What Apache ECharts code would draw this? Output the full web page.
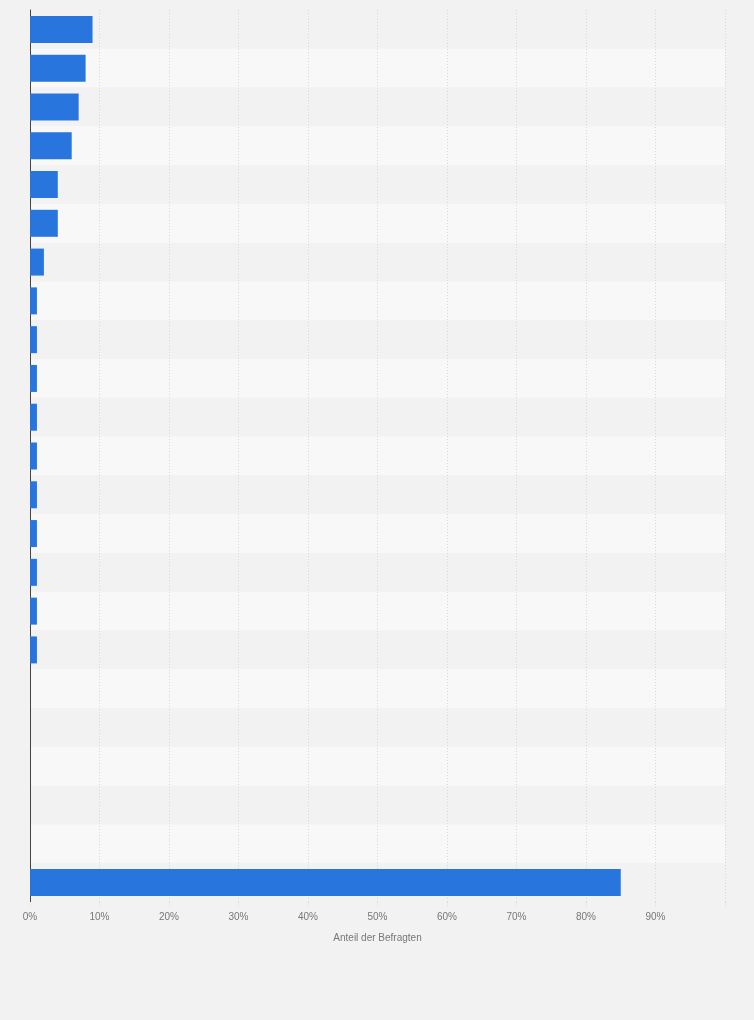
<!DOCTYPE html>
<html><head><meta charset="utf-8">
<script src="https://cdn.jsdelivr.net/npm/echarts@6/dist/echarts.min.js"></script>
<style>html,body{margin:0;padding:0;background:#f2f2f2;}#c{width:754px;height:1020px;}</style>
</head><body><div id="c"></div>
<script>
const categories = ["Kategorie 1","Kategorie 2","Kategorie 3","Kategorie 4","Kategorie 5","Kategorie 6","Kategorie 7","Kategorie 8","Kategorie 9","Kategorie 10","Kategorie 11","Kategorie 12","Kategorie 13","Kategorie 14","Kategorie 15","Kategorie 16","Kategorie 17","Kategorie 18","Kategorie 19","Kategorie 20","Kategorie 21","Kategorie 22","Kategorie 23"];
const values = [9,8,7,6,4,4,2,1,1,1,1,1,1,1,1,1,1,0,0,0,0,0,85];
const xTicks = [0,10,20,30,40,50,60,70,80,90];
const axisName = "Anteil der Befragten";

const chart = echarts.init(document.getElementById('c'), null, {renderer:'canvas'});
chart.setOption({
  backgroundColor:'#f2f2f2',
  animation:false,
  grid:{left:30,right:29,top:10,bottom:118,containLabel:false},
  xAxis:{type:'value',min:0,max:100,interval:10,
    name:axisName,nameLocation:'middle',nameGap:31,
    nameTextStyle:{color:'#777',fontSize:10,fontFamily:'Arial, Liberation Sans, sans-serif'},
    axisLine:{show:false},
    axisTick:{show:true,length:5,lineStyle:{color:'#d8d8d8',type:[1,2]}},
    axisLabel:{color:'#777',fontSize:10,margin:10,fontFamily:'Arial, Liberation Sans, sans-serif',
      formatter:v=> xTicks.indexOf(v)>=0 ? v+'%' : ''},
    splitLine:{show:true,lineStyle:{color:'#d8d8d8',type:[1,2],width:1}}
  },
  yAxis:{type:'category',data:categories,inverse:true,
    axisLine:{show:true,lineStyle:{color:'#444',width:1}},
    axisTick:{show:false},
    axisLabel:{show:false},
    splitArea:{show:true,areaStyle:{color:['#f2f2f2','#f8f8f8']}}
  },
  series:[{type:'bar',data:values,barWidth:27,itemStyle:{color:'#2876dd'}}]
});
</script></body></html>
